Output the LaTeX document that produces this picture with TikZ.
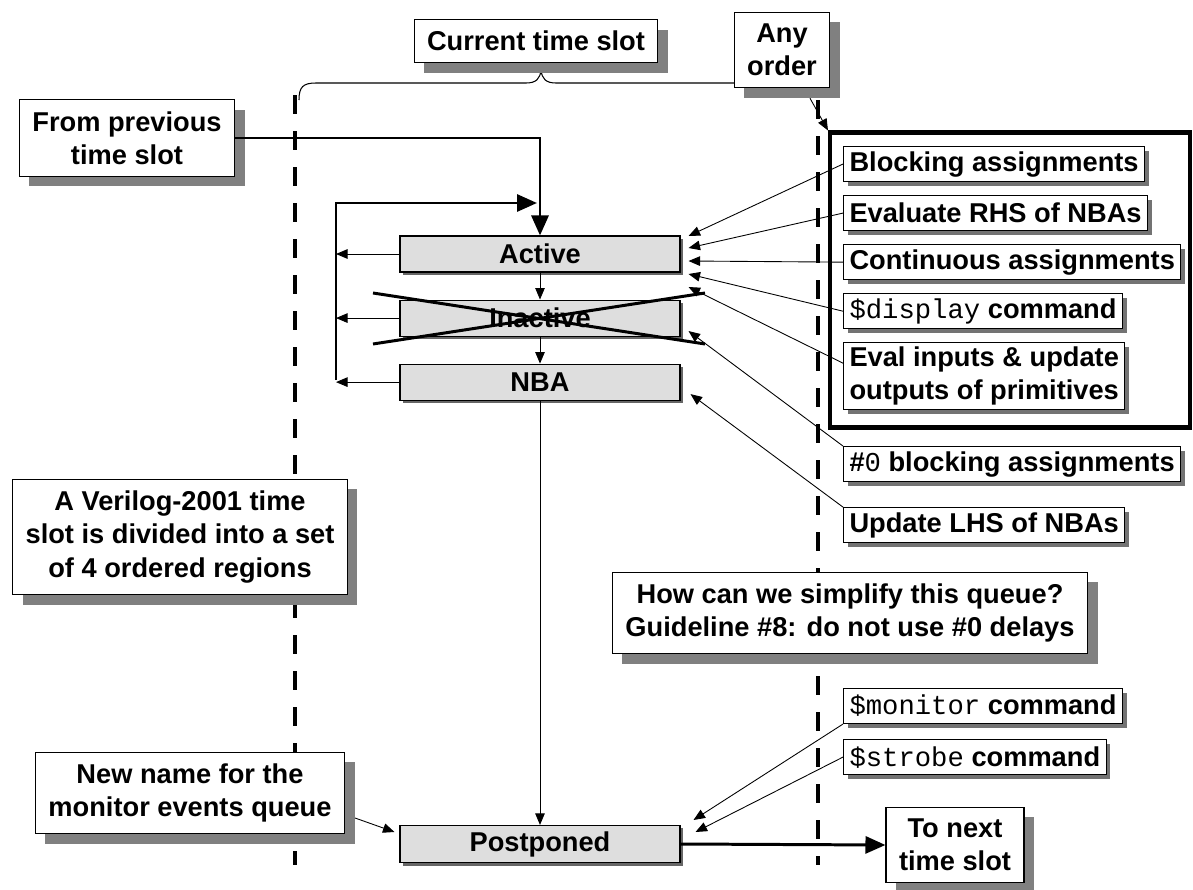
\documentclass[tikz,border=0pt]{standalone}
\usepackage{fontspec}
\setmainfont{Liberation Sans}
\setmonofont{Liberation Mono}
\usepackage{tikz}
\usetikzlibrary{positioning, arrows.meta, shadows}
\newcommand{\cmd}[1]{{\mdseries\ttfamily #1}}
\tikzset{
    >={Triangle[length=2.3mm,width=1.9mm]},     % small solid arrow heads
    node distance=2.8mm,                        % gap between stacked boxes
    every node/.style={font=\fontsize{15.5}{19}\selectfont\bfseries},
    callout/.style={draw, fill=white, line width=0.6pt, align=center, inner xsep=2.6mm, inner ysep=2.3mm,
        drop shadow={shadow xshift=2mm, shadow yshift=-2mm, fill=black!50, opacity=1}},
    item/.style={draw, fill=white, line width=0.6pt, align=left, inner xsep=1.2mm, inner ysep=0.8mm, minimum height=7mm,
        drop shadow={shadow xshift=0.8mm, shadow yshift=-0.8mm, fill=black!55, opacity=1}},
    region/.style={draw, fill=black!13, line width=0.6pt, minimum width=56mm, minimum height=7.2mm,
        drop shadow={shadow xshift=0.6mm, shadow yshift=-0.6mm, fill=black!60, opacity=1}},
    link/.style={->, line width=0.5pt},         % thin connectors
    flow/.style={-{Triangle[length=4mm,width=3.4mm]}, line width=1.7pt},
    slotline/.style={line width=2.3pt, dash pattern=on 3.8mm off 3.4mm},
}

\begin{document}
\begin{tikzpicture}[x=0.2mm, y=-0.2mm]
\useasboundingbox (0,0) rectangle (1193,890);

% borders of the time slot
\draw[slotline] (295,95) -- (295,865);
\draw[slotline] (818,100) -- (818,865);
\draw[line width=0.6pt] (299,100) .. controls (299,87) and (303,83) .. (316,83) -- (526,83)
    .. controls (536,83) and (540,79) .. (541,70) .. controls (542,79) and (546,83) .. (556,83) -- (760,83);

% ordered regions
\node[region] (act) at (540,254) {Active};
\node[region, below=5.4mm of act] (ina) {Inactive};
\node[region, below=5.4mm of ina] (nba) {NBA};
\node[region] (post) at (540,844) {Postponed};

% notes
\node[callout] (slot) at (536,41) {Current time slot};
\node[callout] (anyord) at (782,50) {Any\\order};
\node[callout] (prev) at (127,138) {From previous\\time slot};
\node[callout] (v2001) at (180,537) {A Verilog-2001 time\\slot is divided into a set\\of 4 ordered regions};
\node[callout] (newnm) at (190,793) {New name for the\\monitor events queue};
\node[callout] (howq) at (850,613) {How can we simplify this queue?\\Guideline \#8: do not use \#0 delays};
\node[callout] (tonext) at (955,845) {To next\\time slot};

% active events, any order
\node[draw, line width=2.3pt, minimum width=72mm, minimum height=59mm] (frame) at (1010,280) {};
\node[item, anchor=north west] (bas) at (843,146) {Blocking assignments};
\node[item, below right=2.6mm and 0mm of bas.south west] (rhs) {Evaluate RHS of NBAs};
\node[item, below right=2.6mm and 0mm of rhs.south west] (cont) {Continuous assignments};
\node[item, below right=2.6mm and 0mm of cont.south west] (disp) {\cmd{\$display} command};
\node[item, below right=2.6mm and 0mm of disp.south west] (prim) {Eval inputs \& update\\outputs of primitives};
\node[item, below right=7.2mm and 0mm of prim.south west] (zero) {\#\cmd{0} blocking assignments};
\node[item, below right=5mm and 0mm of zero.south west] (lhs) {Update LHS of NBAs};
\node[item, anchor=north west] (mon) at (843,688) {\cmd{\$monitor} command};
\node[item, below right=3mm and 0mm of mon.south west] (strb) {\cmd{\$strobe} command};

% loop back to active
\coordinate (fbbot) at (336,380);
\coordinate (fbtop) at (336,203);
\coordinate (fbend) at (537,203);
\draw[flow] (prev.east) -| (act.north);
\draw[flow] (fbbot) -- (fbtop) -- (fbend);
\foreach \r in {act,ina,nba}
    \draw[link] (\r.west) -- (\r.west -| fbtop);
\draw[link] (act.south) -- (ina.north);
\draw[link] (ina.south) -- (nba.north);
\draw[link] (nba.south) -- (post.north);
\draw[flow] (post.east) -- (tonext.west);

% inactive is crossed out
\draw[line width=1.7pt] (373,293) -- (705,344) (373,344) -- (705,293);

\draw[link] (bas.west) -- ([xshift=1.6mm,yshift=3.6mm]act.east);
\draw[link] (rhs.west) -- ([xshift=1.6mm,yshift=1.2mm]act.east);
\draw[link] (cont.west) -- ([xshift=1.6mm,yshift=-1.4mm]act.east);
\draw[link] (disp.west) -- ([xshift=1.6mm,yshift=-4mm]act.east);
\draw[link] ([yshift=2.6mm]prim.west) -- ([xshift=1.6mm,yshift=-6.6mm]act.east);
\draw[link] (zero.north west) -- ([xshift=1.6mm,yshift=-2.6mm]ina.east);
\draw[link] (lhs.north west) -- ([xshift=2mm,yshift=-2.4mm]nba.east);
\draw[link] (mon.south west) -- ([xshift=2.6mm,yshift=4.8mm]post.east);
\draw[link] (strb.west) -- ([xshift=3mm,yshift=2.4mm]post.east);
\draw[link] ([xshift=2mm,yshift=-5mm]newnm.east) -- ([xshift=-1mm,yshift=2.4mm]post.west);
\draw[link] ([xshift=5.6mm,yshift=-2mm]anyord.south) -- (frame.north west);

\end{tikzpicture}
\end{document}
